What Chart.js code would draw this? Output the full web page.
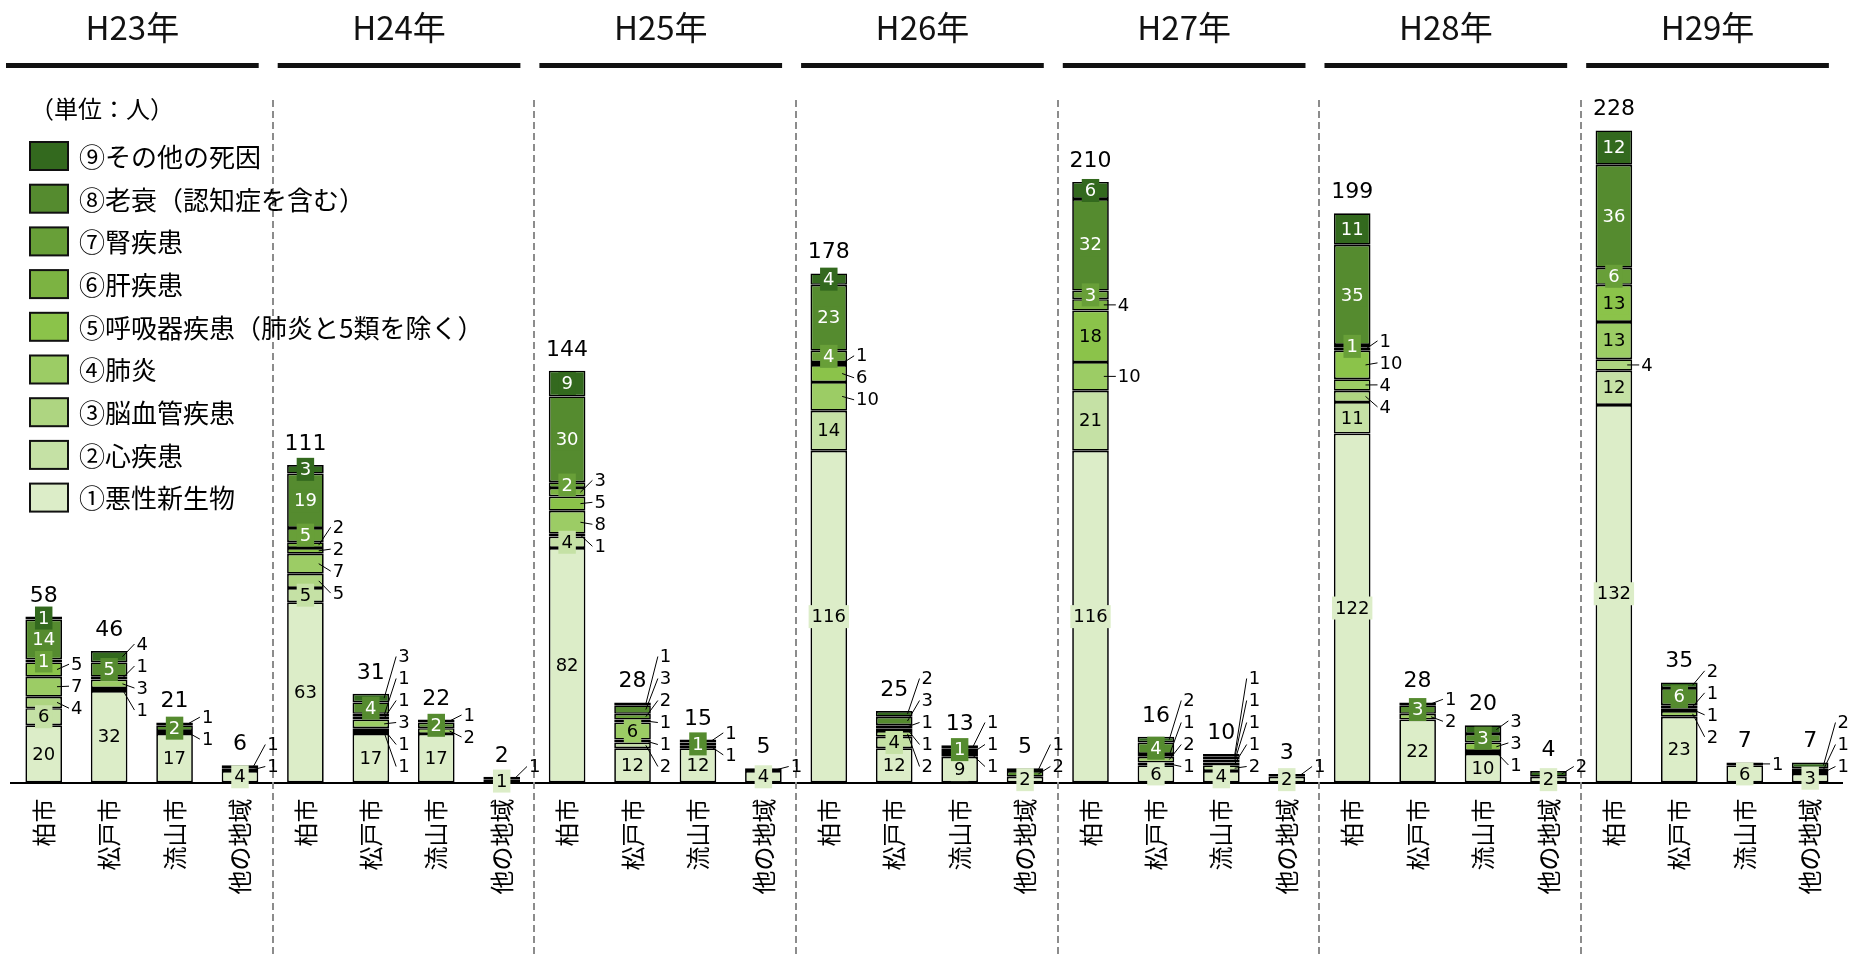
<!DOCTYPE html>
<html lang="ja">
<head>
<meta charset="UTF-8">
<title>死因別死亡者数</title>
<script src="https://cdn.jsdelivr.net/npm/chart.js"></script>
<style>
  html, body { margin: 0; padding: 0; background: #fff; }
</style>
</head>
<body>
<canvas id="myChart" width="1855" height="957"></canvas>
<script>
// 年 × 地域（各年 柏市・松戸市・流山市・他の地域）
const years = ['H23年', 'H24年', 'H25年', 'H26年', 'H27年', 'H28年', 'H29年'];
const regions = ['柏市', '松戸市', '流山市', '他の地域'];
const causes = [
    '①悪性新生物', '②心疾患', '③脳血管疾患', '④肺炎',
    '⑤呼吸器疾患（肺炎と5類を除く）', '⑥肝疾患', '⑦腎疾患',
    '⑧老衰（認知症を含む）', '⑨その他の死因'
];
const unitLabel = '（単位：人）';

const akusei  = [20, 32, 17, 4,  63, 17, 17, 1,  82, 12, 12, 4,  116, 12, 9, 2,  116, 6, 4, 2,  122, 22, 10, 2,  132, 23, 6, 3];
const shin    = [6, 1, 0, 0,     5, 1, 0, 0,     4, 2, 0, 0,     14, 4, 0, 0,    21, 1, 2, 0,   11, 0, 1, 0,    12, 0, 0, 0];
const nou     = [4, 0, 0, 0,     5, 1, 0, 0,     1, 1, 0, 0,     0, 2, 0, 0,     0, 0, 0, 0,    4, 0, 0, 0,     4, 0, 0, 0];
const haien   = [7, 3, 1, 0,     7, 3, 2, 0,     8, 6, 1, 0,     10, 1, 1, 0,    10, 2, 1, 0,   4, 2, 0, 0,     13, 2, 0, 1];
const kokyuki = [5, 1, 0, 0,     2, 1, 0, 0,     5, 0, 0, 0,     6, 1, 0, 0,     18, 1, 1, 0,   10, 0, 3, 0,    13, 1, 0, 0];
const kan     = [0, 0, 0, 0,     2, 1, 0, 0,     3, 1, 0, 0,     1, 0, 0, 0,     4, 0, 0, 0,    1, 0, 0, 0,     0, 0, 0, 0];
const jin     = [1, 0, 0, 0,     5, 0, 0, 0,     2, 2, 0, 0,     4, 0, 1, 0,     3, 0, 0, 0,    1, 0, 0, 0,     6, 1, 0, 0];
const rousui  = [14, 5, 2, 1,    19, 4, 2, 0,    30, 3, 1, 0,    23, 3, 1, 2,    32, 4, 1, 0,   35, 3, 3, 0,    36, 6, 0, 1];
const sonota  = [1, 4, 1, 1,     3, 3, 1, 1,     9, 1, 1, 1,     4, 2, 1, 1,     6, 2, 1, 1,    11, 1, 3, 2,    12, 2, 1, 2];

const series = [akusei, shin, nou, haien, kokyuki, kan, jin, rousui, sonota];
const colors = ['#DCEDC8', '#C5E1A5', '#AED581', '#9CCC65', '#8BC34A', '#7CB342', '#689F38', '#558B2F', '#33691E'];

const labels = [];
years.forEach(() => regions.forEach(r => labels.push(r)));
const totals = labels.map((_, i) => series.reduce((s, arr) => s + arr[i], 0));

const NUM_FONT = "'DejaVu Sans', Verdana, sans-serif";
const JP_FONT = "'Noto Sans CJK JP', 'Noto Sans', sans-serif";

// 区切り線・年見出し
const groupPlugin = {
    id: 'groups',
    beforeDatasetsDraw(chart) {
        const ctx = chart.ctx;
        const x = chart.scales.x;
        const cw = x.getPixelForValue(1) - x.getPixelForValue(0);
        ctx.save();
        ctx.strokeStyle = '#8c8c8c';
        ctx.lineWidth = 2;
        ctx.setLineDash([7, 4]);
        for (let g = 1; g < years.length; g++) {
            const px = Math.round(x.getPixelForValue(g * regions.length) - cw / 2);
            ctx.beginPath();
            ctx.moveTo(px, 100);
            ctx.lineTo(px, chart.height);
            ctx.stroke();
        }
        ctx.setLineDash([]);
        years.forEach((y, g) => {
            const left = x.getPixelForValue(g * regions.length) - cw / 2;
            const right = left + cw * regions.length;
            const l = g === 0 ? 6 : left + 5;
            const r = right - 14;
            ctx.fillStyle = '#111';
            ctx.fillRect(l, 63, r - l, 5);
            ctx.font = '33px ' + JP_FONT;
            ctx.textAlign = 'center';
            ctx.textBaseline = 'middle';
            ctx.fillText(y, (l + r) / 2, 27);
        });
        ctx.restore();
    }
};

// 凡例
const legendPlugin = {
    id: 'sideLegend',
    afterDraw(chart) {
        const ctx = chart.ctx;
        ctx.save();
        ctx.font = '24px ' + JP_FONT;
        ctx.fillStyle = '#000';
        ctx.textBaseline = 'middle';
        ctx.textAlign = 'left';
        ctx.fillText(unitLabel, 30, 109);
        ctx.font = '26px ' + JP_FONT;
        for (let k = 0; k < causes.length; k++) {
            const idx = causes.length - 1 - k;
            const cy = 156 + k * 42.7;
            ctx.fillStyle = colors[idx];
            ctx.fillRect(30, cy - 14, 38, 28);
            ctx.strokeStyle = '#111';
            ctx.lineWidth = 2;
            ctx.strokeRect(30, cy - 14, 38, 28);
            ctx.fillStyle = '#000';
            ctx.fillText(causes[idx], 79, cy + 1);
        }
        ctx.restore();
    }
};

function insideLabel(i, d) {
    if (d === 0) return true;
    const tot = totals[i];
    const v = series[d][i];
    if (tot >= 50) return [1, 6, 7, 8].includes(d) || v >= 13;
    if (tot < 13) return false;
    let best = 1;
    for (let k = 1; k < series.length; k++) {
        const bv = series[best][i];
        const kv = series[k][i];
        if (kv > bv || (kv === bv && k === 7)) best = k;
    }
    return d === best;
}

// 値ラベル・合計
const valuePlugin = {
    id: 'values',
    afterDatasetsDraw(chart) {
        const ctx = chart.ctx;
        const baseY = chart.scales.y.getPixelForValue(0);
        ctx.save();
        labels.forEach((_, i) => {
            let barX = 0, barHalf = 0, topY = baseY;
            const outside = [];
            const inside = [];
            series.forEach((arr, d) => {
                const v = arr[i];
                if (!v) return;
                const el = chart.getDatasetMeta(d).data[i];
                barX = el.x; barHalf = el.width / 2;
                const cy = (el.y + el.base) / 2;
                topY = Math.min(topY, el.y);
                if (insideLabel(i, d)) inside.push({ d, v, cy });
                else outside.push({ d, v, cy });
            });
            // inside labels
            ctx.font = '18px ' + NUM_FONT;
            ctx.textAlign = 'center';
            ctx.textBaseline = 'middle';
            inside.forEach(it => {
                const t = String(it.v);
                const w = ctx.measureText(t).width + 6;
                ctx.fillStyle = colors[it.d];
                ctx.fillRect(barX - w / 2, it.cy - 11.5, w, 23);
                ctx.fillStyle = it.d >= 5 ? '#fff' : '#000';
                ctx.fillText(t, barX, it.cy + 1);
            });
            // outside labels with leader lines
            const gap = 22;
            const maxY = baseY - 16;
            const ys = outside.map(it => Math.min(it.cy, maxY));
            for (let k = 0; k < 200; k++) {
                for (let j = 1; j < ys.length; j++) {
                    const dd = ys[j - 1] - ys[j];
                    if (dd < gap) {
                        const p = (gap - dd) / 2;
                        ys[j - 1] += p; ys[j] -= p;
                    }
                }
                if (ys.length && ys[0] > maxY) ys[0] = maxY;
            }
            for (let j = 1; j < ys.length; j++) ys[j] = Math.min(ys[j], ys[j - 1] - gap);
            const lx = barX + barHalf + 9;
            ctx.textAlign = 'left';
            outside.forEach((it, j) => {
                ctx.strokeStyle = '#000';
                ctx.lineWidth = 1;
                ctx.beginPath();
                ctx.moveTo(barX + barHalf - 5, it.cy);
                ctx.lineTo(lx - 2, ys[j]);
                ctx.stroke();
                ctx.fillStyle = '#000';
                ctx.fillText(String(it.v), lx, ys[j] + 1);
            });
            // total
            ctx.font = '22px ' + NUM_FONT;
            ctx.textAlign = 'center';
            ctx.textBaseline = 'alphabetic';
            ctx.fillStyle = '#000';
            ctx.fillText(String(totals[i]), barX, topY - 15);
        });
        ctx.restore();
    }
};

const ctx = document.getElementById('myChart').getContext('2d');
const myChart = new Chart(ctx, {
    type: 'bar',
    data: {
        labels: labels,
        datasets: series.map((arr, d) => ({
            label: causes[d],
            data: arr.map(v => (v === 0 ? null : v)),
            backgroundColor: colors[d],
            borderColor: '#000',
            borderWidth: 1.7,
            borderSkipped: false,
            barPercentage: 0.56,
            categoryPercentage: 1.0
        }))
    },
    options: {
        responsive: false,
        animation: false,
        devicePixelRatio: 1,
        layout: { padding: { left: 11, right: 2, top: 67.5, bottom: 0 } },
        plugins: {
            legend: { display: false },
            tooltip: { enabled: false }
        },
        scales: {
            x: {
                stacked: true,
                grid: { display: false, drawTicks: false },
                border: { display: true, color: '#000', width: 2 },
                ticks: {
                    autoSkip: false,
                    minRotation: 90,
                    maxRotation: 90,
                    padding: 16,
                    color: '#000',
                    font: { family: JP_FONT, size: 24 }
                },
                afterFit: s => { s.height = 957 - 782.5; }
            },
            y: {
                stacked: true,
                display: false,
                min: 0,
                max: 250
            }
        }
    },
    plugins: [groupPlugin, valuePlugin, legendPlugin]
});
</script>
</body>
</html>
